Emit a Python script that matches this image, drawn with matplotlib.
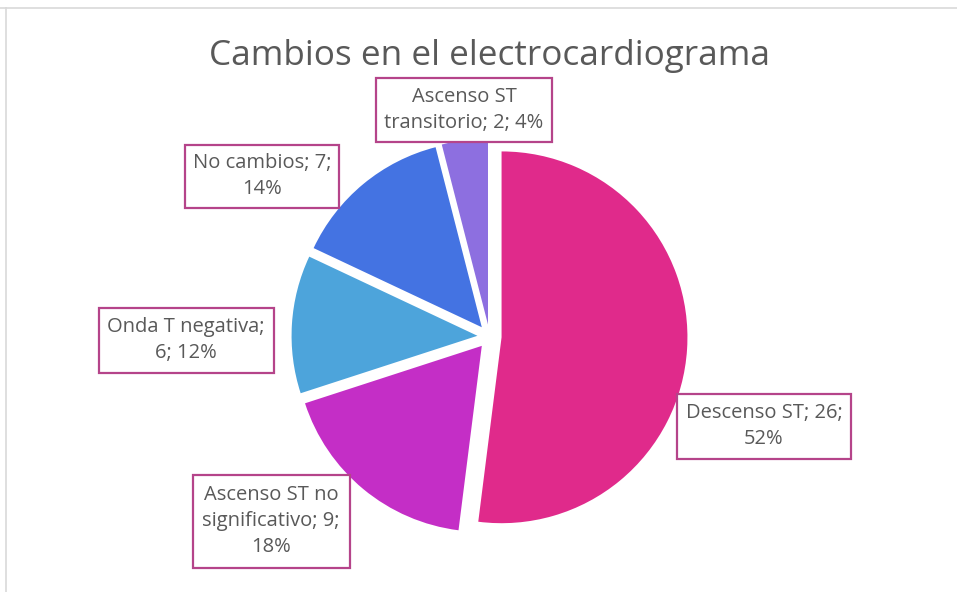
import matplotlib
matplotlib.use("Agg")
import matplotlib.pyplot as plt
from matplotlib.lines import Line2D
from matplotlib.patches import Rectangle

plt.rcParams['font.family'] = ['Open Sans', 'DejaVu Sans']

# Datos
categorias = ['Descenso ST', 'Ascenso ST no significativo', 'Onda T negativa',
              'No cambios', 'Ascenso ST transitorio']
valores = [26, 9, 6, 7, 2]
etiquetas = ['Descenso ST; 26;\n52%',
             'Ascenso ST no\nsignificativo; 9;\n18%',
             'Onda T negativa;\n6; 12%',
             'No cambios; 7;\n14%',
             'Ascenso ST\ntransitorio; 2; 4%']
colores = ['#E02A8B', '#C42EC6', '#4DA4DB', '#4473E2', '#8D6FE0']

W, H = 957, 592
# cajas de etiquetas: centro y tamano en pixeles
cajas = [(764, 426, 174, 65), (271, 521, 157, 93), (186, 340, 175, 65),
         (262, 176, 154, 63), (464, 110, 176, 64)]

fig = plt.figure(figsize=(9.57, 5.92), dpi=100)
ax = fig.add_axes([0.259, 0.023, 0.505, 0.817])

ax.pie(valores, colors=colores, startangle=90, counterclock=False,
       explode=[0.065] * len(valores), wedgeprops={'linewidth': 0})
ax.set_xlim(-1.3, 1.3)
ax.set_ylim(-1.3, 1.3)
ax.set_aspect('equal')

for txt, (cx, cy, bw, bh) in zip(etiquetas, cajas):
    x0 = (cx - bw / 2) / W
    y0 = 1 - (cy + bh / 2) / H
    fig.add_artist(Rectangle((x0, y0), bw / W, bh / H, transform=fig.transFigure,
                             fc='white', ec='#B5448A', lw=1.6))
    fig.text(cx / W, 1 - cy / H, txt, ha='center', va='center', fontsize=14.5,
             color='#595959', linespacing=1.38)

fig.text(0.511, 1 - 65 / H, 'Cambios en el electrocardiograma', ha='center',
         va='baseline', fontsize=25.3, color='#595959')

# marco del grafico
fig.add_artist(Line2D([0, 1], [0.987, 0.987], color='#D9D9D9', lw=1.2))
fig.add_artist(Line2D([0.006, 0.006], [0, 0.987], color='#D9D9D9', lw=1.2))

fig.savefig('out.png', dpi=100)
